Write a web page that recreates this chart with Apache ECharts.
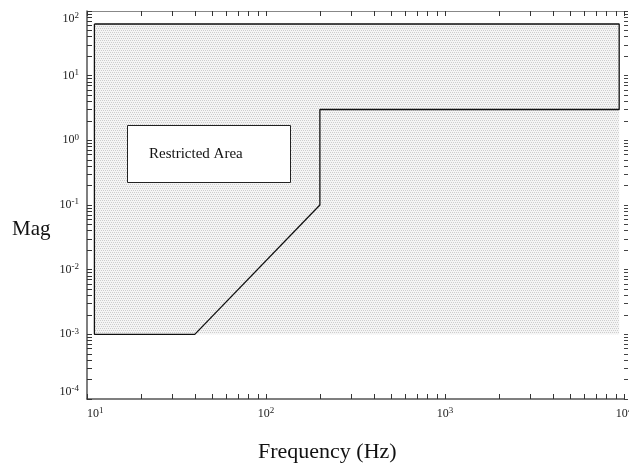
<!DOCTYPE html>
<html>
<head>
<meta charset="utf-8">
<script src="https://cdn.jsdelivr.net/npm/echarts@6/dist/echarts.min.js"></script>
<style>
html, body { margin: 0; padding: 0; background: #fff; }
#main { width: 629px; height: 472px; }
</style>
</head>
<body>
<div id="main"></div>
<script>
// tick labels (decades)
var xDecades = [10, 100, 1000, 10000];
var yDecades = [1e-4, 1e-3, 1e-2, 1e-1, 1, 10, 100];

// limit line: outline of the restricted area (Hz, Mag)
var outlineFreq = [11, 9400, 9400, 200, 200, 40, 11, 11];
var outlineMag  = [63, 63, 3, 3, 0.1, 0.001, 0.001, 63];

// shaded block behind it
var shadeFreq = [11, 9400];
var shadeMag  = [0.001, 63];

// 1..9 x each decade, for the small ticks
function logTicks(list) {
    var out = [];
    for (var i = 0; i < list.length - 1; i++) {
        for (var k = 1; k < 10; k++) out.push(list[i] * k);
    }
    out.push(list[list.length - 1]);
    return out;
}

function powLabel(v) {
    var e = Math.round(Math.log10(v));
    return '{b|10}{sup|' + e + '}';
}

// dotted grey fill
var tile = document.createElement('canvas');
tile.width = 4;
tile.height = 4;
var tc = tile.getContext('2d');
tc.fillStyle = '#f4f4f4';
tc.fillRect(0, 0, 4, 4);
tc.fillStyle = '#cdcdcd';
[[0, 0], [2, 0], [1, 2], [3, 2]].forEach(function (p) { tc.fillRect(p[0], p[1], 1, 1); });

var serif = 'Liberation Serif';
var labelRich = {
    b: { fontSize: 12, fontFamily: serif, color: '#222' },
    sup: { fontSize: 9, fontFamily: serif, color: '#222', verticalAlign: 'bottom', padding: [0, 0, 6, 0] }
};

var chart = echarts.init(document.getElementById('main'));

var outlineData = outlineFreq.map(function (f, i) { return [f, outlineMag[i]]; });

var option = {
    animation: false,
    grid: { left: 87, right: 5, top: 11, bottom: 73, outerBoundsMode: 'none' },
    xAxis: [
        {
            type: 'log', min: 10, max: 10000, position: 'bottom',
            axisLine: { lineStyle: { color: '#555', width: 1.5 } },
            axisTick: { inside: true, length: 5, customValues: logTicks(xDecades), lineStyle: { color: '#333' } },
            axisLabel: { customValues: xDecades, formatter: powLabel, rich: labelRich, margin: 7, alignMinLabel: 'left' },
            splitLine: { show: false }
        },
        {
            type: 'log', min: 10, max: 10000, position: 'top',
            axisLine: { show: true, lineStyle: { color: '#888', width: 1.2 } },
            axisTick: { inside: true, length: 5, customValues: logTicks(xDecades), lineStyle: { color: '#333' } },
            axisLabel: { show: false },
            splitLine: { show: false }
        }
    ],
    yAxis: [
        {
            type: 'log', min: 1e-4, max: 100, position: 'left',
            axisLine: { show: true, lineStyle: { color: '#555', width: 1.5 } },
            axisTick: { show: true, inside: true, length: 5, customValues: logTicks(yDecades), lineStyle: { color: '#333' } },
            axisLabel: { customValues: yDecades, formatter: powLabel, rich: labelRich, margin: 8,
                verticalAlignMaxLabel: 'top', verticalAlignMinLabel: 'bottom' },
            splitLine: { show: false }
        },
        {
            type: 'log', min: 1e-4, max: 100, position: 'right',
            axisLine: { show: false },
            axisTick: { show: true, inside: false, length: 4, customValues: logTicks(yDecades), lineStyle: { color: '#444' } },
            axisLabel: { show: false },
            splitLine: { show: false }
        }
    ],
    series: [
        {
            name: 'shade',
            type: 'custom',
            encode: { x: [0, 1], y: [2, 3] },
            data: [[shadeFreq[0], shadeFreq[1], shadeMag[0], shadeMag[1]]],
            renderItem: function (params, api) {
                var a = api.coord([api.value(0), api.value(2)]);
                var b = api.coord([api.value(1), api.value(3)]);
                return {
                    type: 'rect',
                    shape: { x: a[0], y: b[1], width: b[0] - a[0], height: a[1] - b[1] },
                    style: { fill: { image: tile, repeat: 'repeat' } }
                };
            },
            z: 1
        },
        {
            name: 'limit',
            type: 'line',
            data: outlineData,
            symbol: 'none',
            lineStyle: { color: '#111', width: 1.3 },
            z: 3
        }
    ],
    graphic: [
        {
            type: 'rect', left: 127, top: 125, z: 100,
            shape: { width: 163, height: 57 },
            style: { fill: '#fff', stroke: '#222', lineWidth: 1 }
        },
        {
            type: 'text', left: 149, top: 147, z: 101,
            style: { text: 'Restricted Area', fontFamily: serif, fontSize: 15, fill: '#111' }
        },
        {
            type: 'text', left: 12, top: 219, z: 100,
            style: { text: 'Mag', fontFamily: serif, fontSize: 21, fill: '#111' }
        },
        {
            type: 'text', left: 258, top: 441, z: 100,
            style: { text: 'Frequency (Hz)', fontFamily: serif, fontSize: 22, fill: '#111' }
        }
    ]
};

chart.setOption(option);
</script>
</body>
</html>
